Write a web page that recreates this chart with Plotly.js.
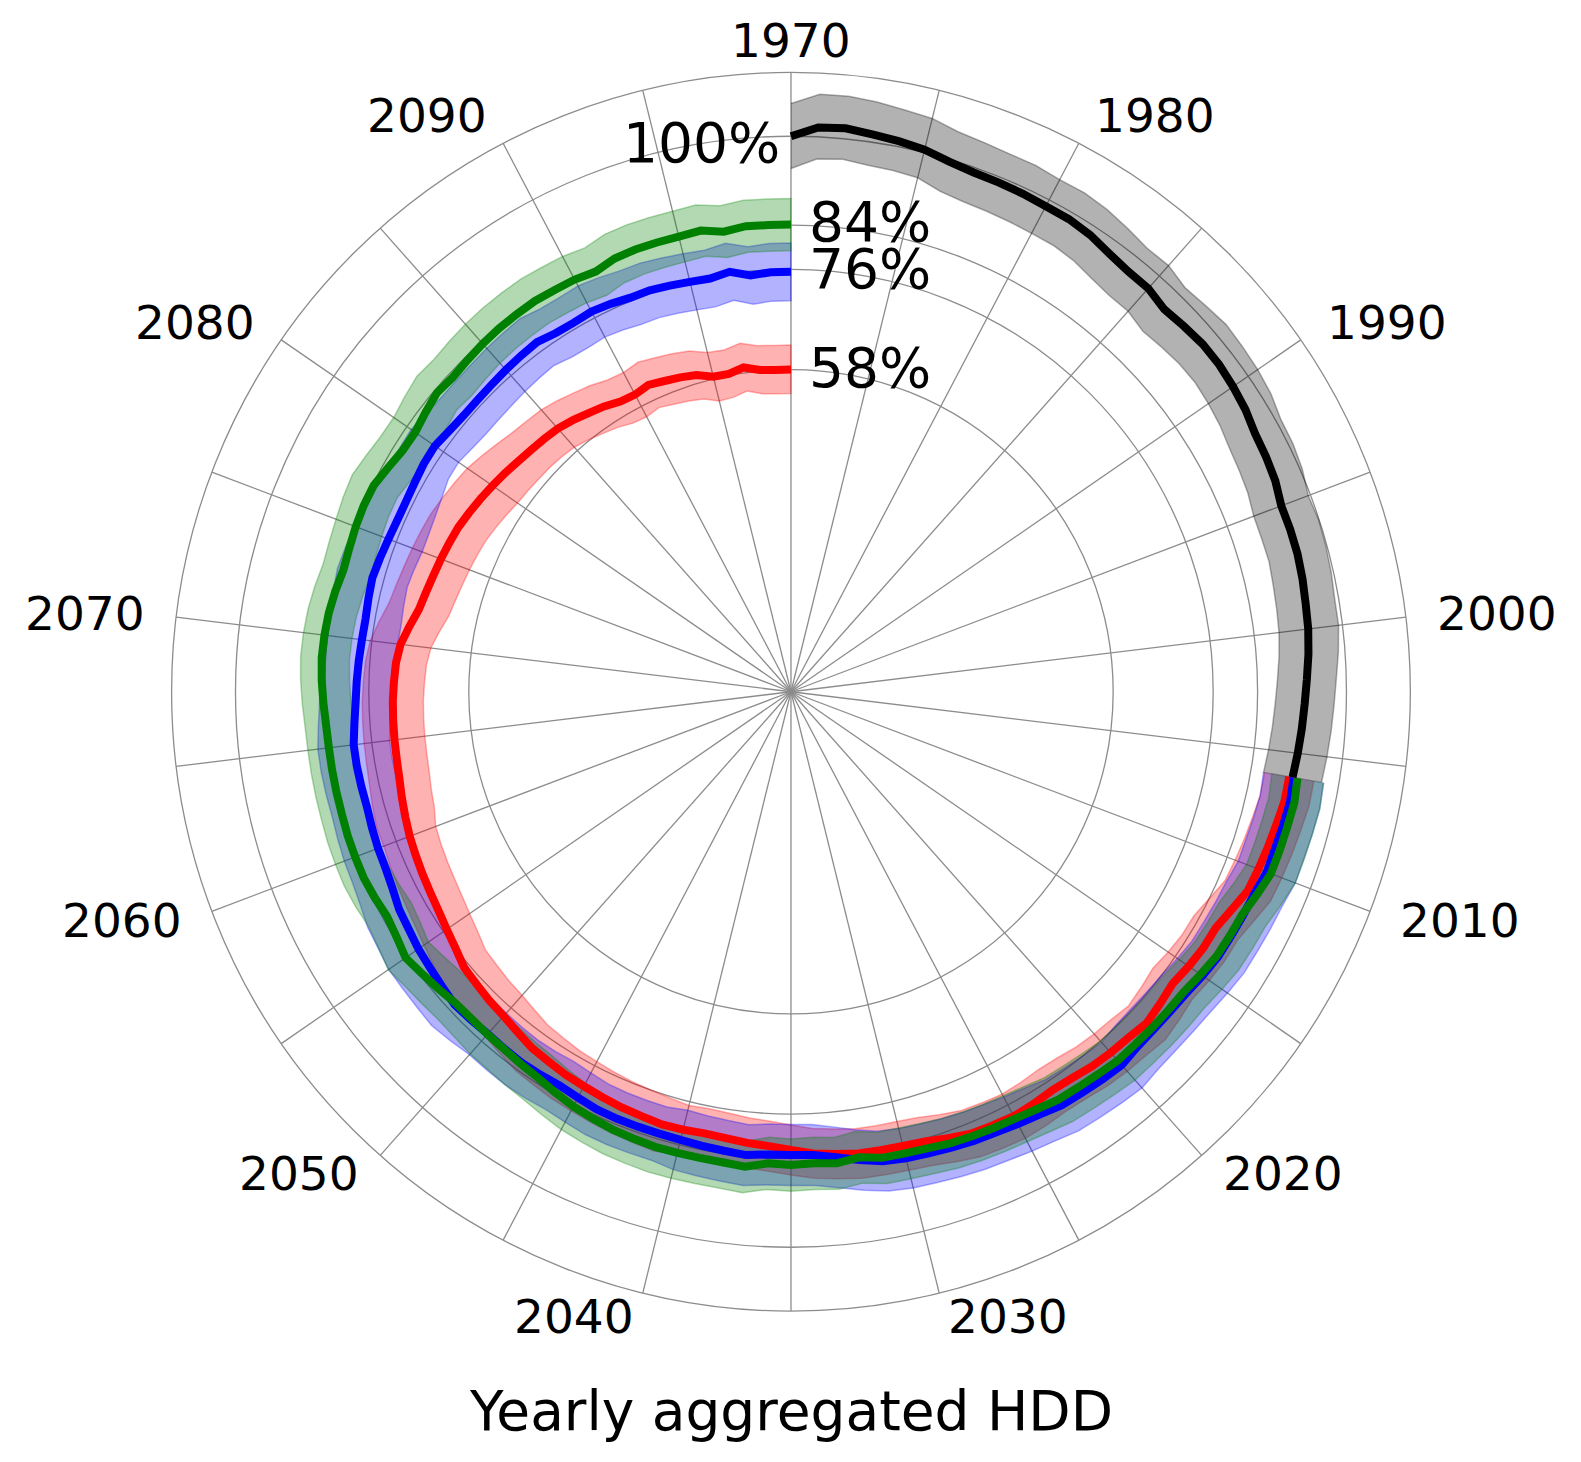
<!DOCTYPE html>
<html>
<head>
<meta charset="utf-8">
<script src="https://cdn.plot.ly/plotly-3.0.1.min.js"></script>
<style>body { margin: 0; background: #fff; }</style>
</head>
<body>
<div id="hddPlot" style="width:1581px;height:1462px"></div>
<script>
// Yearly aggregated HDD, in % of the 1970 level

const histYears = Array.from({ length: 37 }, (_, i) => 1970 + i);   // 1970..2006
const projYears = Array.from({ length: 95 }, (_, i) => 2006 + i);   // 2006..2100

// historical (black)
const histMean = [100.0, 101.7, 101.9, 101.4, 101.0, 100.5, 99.6, 99.1, 99.0, 98.9,
    98.7, 98.7, 98.3, 97.5, 97.0, 97.0, 96.2, 96.6, 97.0, 97.0,
    96.7, 96.3, 95.6, 95.4, 95.1, 94.4, 94.5, 94.5, 94.3, 94.0,
    93.8, 93.4, 92.9, 92.5, 92.2, 91.9, 91.6];
const histLow = [94.2, 96.0, 96.3, 95.8, 95.6, 95.3, 94.0, 93.5, 93.4, 93.3,
    93.2, 93.2, 92.8, 92.0, 91.5, 91.5, 90.7, 91.1, 91.5, 91.6,
    91.3, 90.9, 90.3, 90.0, 89.7, 89.1, 89.1, 89.2, 88.9, 88.7,
    88.5, 88.1, 87.6, 87.2, 86.9, 86.6, 86.3];
const histHigh = [105.9, 107.7, 107.7, 107.3, 106.7, 106.3, 105.2, 104.8, 104.5, 104.5,
    104.1, 104.2, 103.8, 103.1, 102.4, 102.5, 101.6, 102.0, 102.5, 102.3,
    102.1, 101.7, 100.9, 100.8, 100.4, 99.6, 99.9, 99.8, 99.6, 99.3,
    99.3, 98.8, 98.2, 97.8, 97.5, 97.2, 96.9];

// projection (red)
const redMean = [91.0, 91.0, 90.6, 90.3, 90.0, 89.7, 88.5, 87.5, 87.4, 87.0,
    86.5, 87.0, 87.5, 87.0, 86.8, 86.5, 86.0, 85.8, 86.1, 86.3,
    86.1, 85.9, 85.2, 84.5, 84.2, 84.1, 84.0, 83.6, 83.2, 82.5,
    81.9, 81.6, 81.2, 81.0, 81.2, 81.3, 81.0, 80.8, 80.5, 80.2,
    80.0, 79.6, 79.3, 78.6, 78.0, 77.7, 77.3, 77.0, 76.0, 75.3,
    74.7, 74.3, 74.0, 73.7, 73.4, 73.0, 72.6, 72.2, 72.0, 71.9,
    71.8, 71.7, 71.5, 71.3, 70.8, 69.7, 68.6, 68.1, 67.7, 67.4,
    67.1, 66.8, 66.3, 65.8, 65.3, 64.8, 64.3, 63.9, 63.6, 63.3,
    62.7, 62.0, 61.4, 60.6, 60.4, 60.9, 60.4, 60.0, 59.5, 58.4,
    58.3, 59.0, 58.2, 58.0, 58.0];
const redLow = [86.5, 86.5, 86.1, 85.8, 85.5, 85.2, 84.0, 83.0, 82.9, 82.5,
    82.0, 82.5, 83.0, 82.5, 82.3, 82.0, 81.5, 81.3, 81.6, 81.8,
    81.6, 81.4, 80.7, 80.0, 79.7, 79.6, 79.5, 79.1, 78.7, 78.0,
    77.4, 77.1, 76.7, 76.5, 76.7, 76.3, 76.0, 75.8, 75.5, 75.2,
    75.0, 74.6, 74.3, 73.6, 73.0, 72.7, 72.3, 72.0, 71.0, 70.3,
    69.7, 69.3, 69.0, 68.7, 68.4, 67.5, 67.1, 66.7, 66.5, 66.4,
    66.3, 66.2, 66.0, 65.8, 65.3, 64.2, 63.1, 62.6, 62.2, 61.9,
    61.6, 61.3, 60.8, 60.3, 59.8, 59.6, 59.4, 59.3, 59.1, 58.8,
    58.2, 57.5, 56.9, 56.1, 55.9, 56.4, 55.9, 55.5, 55.0, 53.9,
    54.0, 54.7, 53.9, 53.7, 53.7];
const redHigh = [95.5, 95.5, 95.1, 94.8, 94.5, 94.2, 93.0, 92.0, 91.9, 91.5,
    91.0, 91.5, 92.0, 91.5, 91.3, 91.0, 90.5, 90.3, 90.6, 90.8,
    90.6, 90.4, 89.7, 89.0, 88.7, 88.6, 88.5, 88.1, 87.7, 87.0,
    86.4, 86.1, 85.7, 85.5, 85.7, 86.3, 86.0, 85.8, 85.5, 85.2,
    85.0, 84.6, 84.3, 83.6, 83.0, 82.7, 82.3, 82.0, 81.0, 80.3,
    79.7, 79.3, 79.0, 78.7, 78.4, 78.5, 78.1, 77.7, 77.5, 77.4,
    77.3, 77.2, 77.0, 76.8, 76.3, 75.2, 74.1, 73.6, 73.2, 72.9,
    72.6, 72.3, 71.8, 71.3, 70.8, 70.0, 69.2, 68.5, 68.1, 67.8,
    67.2, 66.5, 65.9, 65.1, 64.9, 65.4, 64.9, 64.5, 64.0, 62.9,
    62.7, 63.4, 62.6, 62.4, 62.4];

// projection (blue)
const blueMean = [91.8, 92.0, 91.8, 91.6, 91.6, 91.0, 90.8, 90.6, 90.5, 90.0,
    89.5, 89.3, 89.2, 89.3, 89.8, 89.5, 89.2, 89.0, 88.3, 87.9,
    87.5, 87.3, 87.0, 86.7, 86.5, 86.1, 85.2, 84.2, 83.5, 83.4,
    83.4, 83.8, 83.5, 83.3, 83.1, 83.0, 83.0, 83.0, 82.9, 82.5,
    82.2, 82.4, 82.5, 82.4, 82.3, 82.5, 82.7, 82.2, 81.8, 81.5,
    81.0, 80.7, 80.0, 79.6, 79.5, 79.3, 79.1, 79.2, 79.3, 79.3,
    78.8, 78.4, 78.2, 78.0, 77.8, 77.7, 77.9, 78.1, 77.8, 77.5,
    77.3, 77.3, 77.5, 77.8, 77.9, 77.4, 77.1, 77.1, 77.2, 77.4,
    77.6, 77.8, 77.2, 77.1, 77.3, 77.0, 76.6, 76.6, 76.3, 76.0,
    75.8, 76.4, 75.3, 75.6, 75.6];
const blueLow = [86.3, 86.5, 86.3, 86.1, 86.1, 85.5, 85.3, 85.1, 85.0, 84.5,
    84.0, 83.8, 83.7, 83.8, 84.3, 84.0, 83.7, 83.5, 82.8, 82.4,
    82.0, 81.8, 81.5, 81.2, 81.0, 80.6, 79.7, 78.7, 78.0, 77.9,
    77.9, 78.3, 78.0, 77.8, 77.6, 78.0, 78.0, 78.0, 77.9, 77.5,
    77.2, 77.4, 77.5, 77.4, 77.3, 77.2, 77.1, 76.3, 75.6, 75.0,
    74.5, 74.2, 73.5, 73.1, 73.0, 72.8, 72.6, 72.7, 72.8, 72.8,
    72.3, 71.9, 71.7, 71.5, 71.3, 71.2, 71.4, 71.6, 71.3, 71.0,
    71.1, 71.4, 71.9, 72.6, 72.7, 72.2, 71.9, 71.9, 72.0, 72.2,
    72.4, 72.6, 72.0, 71.9, 72.1, 71.8, 71.4, 71.4, 71.1, 70.8,
    70.6, 71.2, 70.1, 70.4, 70.4];
const blueHigh = [97.3, 97.5, 97.3, 97.1, 97.1, 96.5, 96.3, 96.1, 96.0, 95.5,
    95.0, 94.8, 94.7, 94.8, 95.3, 95.0, 94.7, 94.5, 93.8, 93.4,
    93.0, 92.8, 92.5, 92.2, 92.0, 91.6, 90.7, 89.7, 89.0, 88.9,
    88.9, 89.3, 89.0, 88.8, 88.6, 88.0, 88.0, 88.0, 87.9, 87.5,
    87.2, 87.4, 87.5, 87.4, 87.3, 87.8, 88.3, 88.1, 88.0, 88.0,
    87.5, 87.2, 86.5, 86.1, 86.0, 85.8, 85.6, 85.7, 85.8, 85.8,
    85.3, 84.9, 84.7, 84.5, 84.3, 84.2, 84.4, 84.6, 84.3, 84.0,
    83.5, 83.2, 83.1, 83.0, 83.1, 82.6, 82.3, 82.3, 82.4, 82.6,
    82.8, 83.0, 82.4, 82.3, 82.5, 82.2, 81.8, 81.8, 81.5, 81.2,
    81.0, 81.6, 80.5, 80.8, 80.8];

// projection (green)
const greenMean = [92.5, 92.8, 92.6, 92.5, 92.4, 91.5, 90.6, 90.4, 90.2, 89.6,
    89.0, 88.9, 88.8, 88.7, 88.7, 88.3, 88.0, 87.8, 87.2, 86.8,
    86.6, 86.4, 86.2, 85.8, 85.6, 85.5, 84.7, 85.3, 85.0, 85.2,
    85.0, 85.9, 85.6, 85.5, 85.5, 85.5, 85.3, 85.1, 84.7, 84.3,
    83.7, 83.1, 82.8, 82.5, 82.4, 82.3, 82.4, 83.0, 83.6, 84.3,
    83.6, 83.2, 83.6, 83.9, 83.9, 83.9, 83.8, 83.8, 83.8, 83.8,
    83.9, 84.2, 84.5, 84.7, 84.6, 84.4, 84.0, 83.5, 83.6, 83.8,
    83.9, 83.8, 83.0, 82.3, 82.2, 82.8, 83.4, 83.1, 83.4, 83.7,
    83.9, 84.0, 84.1, 83.9, 83.8, 83.4, 84.2, 84.4, 84.4, 84.4,
    84.6, 83.7, 84.2, 84.1, 84.1];
const greenLow = [87.8, 88.1, 87.9, 87.8, 87.7, 86.8, 85.9, 85.7, 85.5, 84.9,
    84.3, 84.2, 84.1, 84.0, 84.0, 83.6, 83.3, 83.1, 82.5, 82.1,
    81.9, 81.7, 81.5, 81.1, 80.9, 80.8, 80.0, 80.6, 80.3, 80.5,
    80.3, 81.2, 80.9, 80.8, 80.8, 80.8, 80.6, 80.4, 80.0, 79.6,
    79.0, 78.4, 78.1, 77.8, 77.7, 77.5, 77.5, 78.0, 78.6, 79.3,
    78.6, 78.2, 78.6, 78.9, 78.9, 78.9, 78.8, 78.8, 78.8, 78.8,
    78.9, 79.2, 79.5, 79.7, 79.6, 79.4, 79.0, 78.5, 78.6, 78.8,
    79.0, 79.0, 78.3, 77.6, 77.5, 78.1, 78.7, 78.4, 78.7, 79.0,
    79.2, 79.3, 79.4, 79.2, 79.1, 78.7, 79.5, 79.7, 79.7, 79.7,
    79.9, 79.0, 79.5, 79.4, 79.4];
const greenHigh = [97.2, 97.5, 97.3, 97.2, 97.1, 96.2, 95.3, 95.1, 94.9, 94.3,
    93.7, 93.6, 93.5, 93.4, 93.4, 93.0, 92.7, 92.5, 91.9, 91.5,
    91.3, 91.1, 90.9, 90.5, 90.3, 90.2, 89.4, 90.0, 89.7, 89.9,
    89.7, 90.6, 90.3, 90.2, 90.2, 90.2, 90.0, 89.8, 89.4, 89.0,
    88.4, 87.8, 87.5, 87.2, 87.1, 86.8, 86.7, 87.0, 87.4, 88.1,
    87.4, 87.0, 87.4, 87.7, 87.7, 87.7, 87.6, 87.6, 87.6, 87.6,
    87.7, 88.0, 88.3, 88.5, 88.4, 88.2, 87.8, 87.3, 87.4, 87.6,
    87.9, 88.1, 87.5, 87.0, 86.9, 87.5, 88.1, 87.8, 88.1, 88.4,
    88.6, 88.7, 88.8, 88.6, 88.5, 88.1, 88.9, 89.1, 89.1, 89.1,
    89.3, 88.4, 88.9, 88.8, 88.8];

// spokes every 5 years, labels every 10
const tickYears = Array.from({ length: 26 }, (_, i) => 1970 + 5 * i);
const labelYears = tickYears.filter(y => y % 10 === 0);
const ringValues = [58, 76, 84, 100];

const yearSpan = 130;   // 1970 .. 2100 fill the whole circle
const toAngle = year => (year - 1970) * 360 / yearSpan;

const font = '"DejaVu Sans", "Liberation Sans", sans-serif';
const gridGrey = '#8c8c8c';
const rMax = 111.5;

const W = 1581, H = 1462;
const domX = [0.1085, 0.8921], domY = [0.1032, 0.9505];

function band(years, low, high, color) {
    const th = years.map(toAngle);
    return {
        type: 'scatterpolar',
        mode: 'lines',
        r: high.concat(low.slice().reverse()),
        theta: th.concat(th.slice().reverse()),
        fill: 'toself',
        fillcolor: color,
        line: { color: color, width: 1.5 },
        hoverinfo: 'skip',
        showlegend: false
    };
}

function curve(years, values, color) {
    return {
        type: 'scatterpolar',
        mode: 'lines',
        r: values,
        theta: years.map(toAngle),
        line: { color: color, width: 8 },
        hoverinfo: 'skip',
        showlegend: false
    };
}

// polar centre and rim in pixels (from the domain)
const cx = (domX[0] + domX[1]) / 2 * W;
const cy = (1 - (domY[0] + domY[1]) / 2) * H;
const rimPx = (domX[1] - domX[0]) * W / 2;

// year labels: anchored just outside the rim, left-aligned on the right
// half and right-aligned on the left half (as matplotlib places them)
const labelRx = 649;
const yearAnnotations = labelYears.map(year => {
    const a = toAngle(year) * Math.PI / 180;
    const s = Math.sin(a), c = Math.cos(a);
    const side = Math.abs(s) < 1e-6 ? 'center' : (s > 0 ? 'left' : 'right');
    const ry = 647 + 4 * c;
    return {
        text: String(year),
        xref: 'paper', yref: 'paper',
        x: (cx + labelRx * s) / W,
        y: 1 - (cy - ry * c) / H,
        xanchor: side, yanchor: 'middle',
        showarrow: false,
        font: { family: font, size: 47, color: '#000' }
    };
});

// end-value labels on the 1970/2100 spoke
const last = arr => arr[arr.length - 1];
const endLabels = [
    { v: histMean[0], side: 'right', dx: -9, dy: 7 },
    { v: last(greenMean), side: 'left', dx: 16, dy: -3 },
    { v: last(blueMean), side: 'left', dx: 16, dy: -3 },
    { v: last(redMean), side: 'left', dx: 16, dy: -2 }
];
const pctAnnotations = endLabels.map(e => ({
    text: Math.round(e.v) + '%',
    xref: 'paper', yref: 'paper',
    x: (cx + e.dx) / W,
    y: 1 - (cy - e.v / rMax * rimPx + e.dy) / H,
    xanchor: e.side, yanchor: 'middle',
    showarrow: false,
    font: { family: font, size: 55, color: '#000' }
}));

const data = [
    band(histYears, histLow, histHigh, 'rgba(0,0,0,0.3)'),
    band(projYears, redLow, redHigh, 'rgba(255,0,0,0.3)'),
    band(projYears, blueLow, blueHigh, 'rgba(0,0,255,0.3)'),
    band(projYears, greenLow, greenHigh, 'rgba(0,128,0,0.3)'),
    curve(histYears, histMean, '#000000'),
    curve(projYears, redMean, '#ff0000'),
    curve(projYears, blueMean, '#0000ff'),
    curve(projYears, greenMean, '#008000')
];

const layout = {
    width: W,
    height: H,
    margin: { l: 0, r: 0, t: 0, b: 0 },
    paper_bgcolor: '#ffffff',
    font: { family: font, color: '#000' },
    showlegend: false,
    polar: {
        domain: { x: domX, y: domY },
        bgcolor: '#ffffff',
        angularaxis: {
            rotation: 90,
            direction: 'clockwise',
            tickmode: 'array',
            tickvals: tickYears.map(toAngle),
            showticklabels: false,
            ticks: '',
            showgrid: true,
            gridcolor: gridGrey,
            gridwidth: 1.3,
            showline: true,
            linecolor: gridGrey,
            linewidth: 1.3
        },
        radialaxis: {
            range: [0, rMax],
            tickmode: 'array',
            tickvals: ringValues,
            showticklabels: false,
            ticks: '',
            showline: false,
            showgrid: true,
            gridcolor: gridGrey,
            gridwidth: 1.3
        }
    },
    annotations: yearAnnotations.concat(pctAnnotations, [{
        text: 'Yearly aggregated HDD',
        xref: 'paper', yref: 'paper',
        x: 0.5, y: 0.035,
        xanchor: 'center', yanchor: 'middle',
        showarrow: false,
        font: { family: font, size: 55, color: '#000' }
    }])
};

Plotly.newPlot('hddPlot', data, layout, { staticPlot: true, displayModeBar: false });
</script>
</body>
</html>
